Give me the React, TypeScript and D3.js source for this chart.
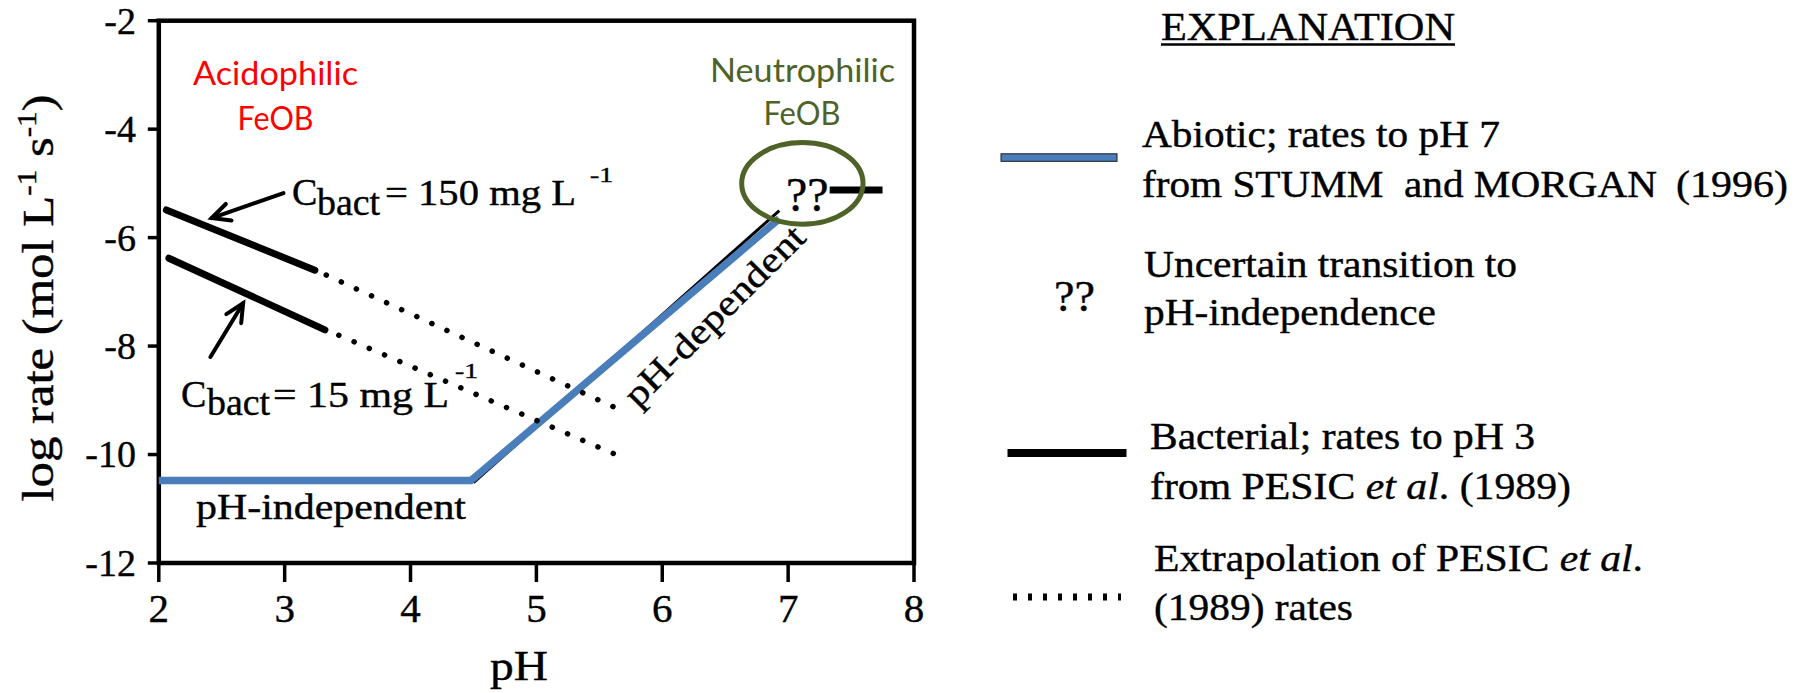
import React from "react";
import * as d3 from "d3";

// ---- data ----
const xTicks = [2, 3, 4, 5, 6, 7, 8];
const yTicks = [-2, -4, -6, -8, -10, -12];

// abiotic (blue) rates
const abioticPH = [2, 4.48, 6.93];
const abioticRate = [-10.48, -10.48, -5.65];
// underlying black abiotic line
const abioticBlackPH = [4.5, 6.93];
const abioticBlackRate = [-10.52, -5.5];
// bacterial 150 mg/L
const bact150PH = [2.06, 3.24];
const bact150Rate = [-5.49, -6.6];
const bact150ExtPH = [3.33, 5.64];
const bact150ExtRate = [-6.69, -9.15];
// bacterial 15 mg/L
const bact15PH = [2.08, 3.32];
const bact15Rate = [-6.38, -7.7];
const bact15ExtPH = [3.43, 5.64];
const bact15ExtRate = [-7.8, -10.01];
// neutral pH-independent segment
const neutralPH = [7.33, 7.75];
const neutralRate = [-5.12, -5.12];

// annotation anchors (data units)
const arrow150 = { tail: [2.99, -5.18], tip: [2.42, -5.64] };
const arrow15 = { tail: [2.41, -8.2], tip: [2.67, -7.21] };
const ellipseC = { ph: 7.113, rate: -5.0, rph: 0.482, rrate: 0.752 };

const SERIF = "'Liberation Serif', 'Times New Roman', serif";
const SANS = "Lato, 'Noto Sans', sans-serif";
const BLUE = "#4a7ebb";
const OLIVE = "#4f6228";

const x = d3.scaleLinear().domain([2, 8]).range([158.8, 914]);
const y = d3.scaleLinear().domain([-12, -2]).range([563, 20.7]);

const line = d3
  .line<[number, number]>()
  .x((d) => x(d[0]))
  .y((d) => y(d[1]));

const zip = (a: number[], b: number[]) => a.map((v, i) => [v, b[i]] as [number, number]);

function Arrow({ tail, tip }: { tail: number[]; tip: number[] }) {
  const x1 = x(tail[0]), y1 = y(tail[1]), x2 = x(tip[0]), y2 = y(tip[1]);
  const ang = Math.atan2(y2 - y1, x2 - x1);
  const L = 20, a = 0.45;
  const h1 = [x2 - L * Math.cos(ang - a), y2 - L * Math.sin(ang - a)];
  const h2 = [x2 - L * Math.cos(ang + a), y2 - L * Math.sin(ang + a)];
  return (
    <g stroke="#000" strokeWidth={4} fill="none" strokeLinecap="round">
      <line x1={x1} y1={y1} x2={x2} y2={y2} />
      <polyline points={`${h1[0]},${h1[1]} ${x2},${y2} ${h2[0]},${h2[1]}`} />
    </g>
  );
}

export default function App() {
  const T = (props: any) => (
    <text fontFamily={SERIF} lengthAdjust="spacingAndGlyphs" stroke="#000" strokeWidth={0.4} {...props} />
  );
  return (
    <div style={{ position: "absolute", left: 0, top: 0 }}>
      <svg width={1809} height={693} style={{ display: "block", background: "#fff" }}>
        {/* frame */}
        <rect x={x(2)} y={y(-2)} width={x(8) - x(2)} height={y(-12) - y(-2)} fill="none" stroke="#000" strokeWidth={4.5} />
        {yTicks.map((t) => (
          <g key={"y" + t}>
            <line x1={x(2) - 11} x2={x(2)} y1={y(t)} y2={y(t)} stroke="#000" strokeWidth={3.5} />
            <T x={136} y={y(t)} dy="0.34em" fontSize={38} textAnchor="end">{t}</T>
          </g>
        ))}
        {xTicks.map((t) => (
          <g key={"x" + t}>
            <line x1={x(t)} x2={x(t)} y1={y(-12)} y2={y(-12) + 19} stroke="#000" strokeWidth={3.5} />
            <T x={x(t)} y={622} fontSize={41} textAnchor="middle">{t}</T>
          </g>
        ))}
        {/* axis titles */}
        <T x={519} y={680} fontSize={42} textAnchor="middle" textLength={58}>pH</T>
        <T transform="translate(53,298) rotate(-90)" fontSize={44} textAnchor="middle" textLength={407}>
          log rate (mol L<tspan dy={-17} fontSize={27}>-1</tspan><tspan dy={17}> s</tspan><tspan dy={-17} fontSize={27}>-1</tspan><tspan dy={17}>)</tspan>
        </T>

        {/* lines */}
        <path d={line(zip(abioticBlackPH, abioticBlackRate))!} fill="none" stroke="#000" strokeWidth={3} />
        <path d={line(zip(abioticPH, abioticRate))!} fill="none" stroke={BLUE} strokeWidth={7.5} />
        <path d={line(zip(bact150PH, bact150Rate))!} fill="none" stroke="#000" strokeWidth={7} strokeLinecap="round" />
        <path d={line(zip(bact15PH, bact15Rate))!} fill="none" stroke="#000" strokeWidth={7} strokeLinecap="round" />
        <path d={line(zip(bact150ExtPH, bact150ExtRate))!} fill="none" stroke="#000" strokeWidth={5.5} strokeLinecap="round" strokeDasharray="0.1 16.5" />
        <path d={line(zip(bact15ExtPH, bact15ExtRate))!} fill="none" stroke="#000" strokeWidth={5.5} strokeLinecap="round" strokeDasharray="0.1 16.5" />
        <path d={line(zip(neutralPH, neutralRate))!} fill="none" stroke="#000" strokeWidth={7} />

        {/* ellipse */}
        <ellipse cx={x(ellipseC.ph)} cy={y(ellipseC.rate)} rx={x(2 + ellipseC.rph) - x(2)} ry={y(-12) - y(-12 + ellipseC.rrate)} fill="none" stroke={OLIVE} strokeWidth={5} />
        <T x={786} y={211} fontSize={48}>??</T>

        {/* arrows */}
        <Arrow tail={arrow150.tail} tip={arrow150.tip} />
        <Arrow tail={arrow15.tail} tip={arrow15.tip} />

        {/* Cbact labels */}
        <T x={292} y={205} fontSize={38}>C</T>
        <T x={317} y={215} fontSize={37} textLength={63}>bact</T>
        <T x={385} y={205} fontSize={36} textLength={191} style={{ whiteSpace: "pre" }}>= 150 mg L</T>
        <T x={590} y={182} fontSize={22} textLength={23}>-1</T>

        <T x={181} y={407} fontSize={38}>C</T>
        <T x={207} y={415} fontSize={37} textLength={63}>bact</T>
        <T x={273} y={407} fontSize={36} textLength={176} style={{ whiteSpace: "pre" }}>= 15 mg L</T>
        <T x={455} y={378} fontSize={22} textLength={23}>-1</T>

        <T x={196} y={519} fontSize={36} textLength={270}>pH-independent</T>
        <T transform="translate(638,409) rotate(-45)" fontSize={36} textLength={240}>pH-dependent</T>

        {/* colored labels */}
        <text fontFamily={SANS} fontSize={32} fill="#ff0000" textAnchor="middle" x={275.5} y={85} textLength={165} lengthAdjust="spacingAndGlyphs">Acidophilic</text>
        <text fontFamily={SANS} fontSize={32} fill="#ff0000" textAnchor="middle" x={275.5} y={130} textLength={76} lengthAdjust="spacingAndGlyphs">FeOB</text>
        <text fontFamily={SANS} fontSize={32} fill={OLIVE} textAnchor="middle" x={802.5} y={82} textLength={185} lengthAdjust="spacingAndGlyphs">Neutrophilic</text>
        <text fontFamily={SANS} fontSize={32} fill={OLIVE} textAnchor="middle" x={802} y={125} textLength={77} lengthAdjust="spacingAndGlyphs">FeOB</text>

        {/* legend */}
        <T x={1161} y={40} fontSize={40} textLength={294}>EXPLANATION</T>
        <line x1={1161} x2={1455} y1={44.5} y2={44.5} stroke="#000" strokeWidth={2.5} />

        <rect x={1001} y={153.8} width={116} height={7.5} fill={BLUE} stroke="#1a1a1a" strokeWidth={1} />
        <T x={1142} y={147} fontSize={38} textLength={358}>Abiotic; rates to pH 7</T>
        <T x={1142} y={197} fontSize={38} textLength={515} style={{ whiteSpace: "pre" }}>from STUMM  and MORGAN</T>
        <T x={1676} y={197} fontSize={38} textLength={112}>(1996)</T>

        <T x={1054} y={311} fontSize={44} textLength={41}>??</T>
        <T x={1144} y={277} fontSize={38} textLength={373}>Uncertain transition to</T>
        <T x={1144} y={325} fontSize={38} textLength={292}>pH-independence</T>

        <line x1={1007.5} x2={1126.5} y1={453} y2={453} stroke="#000" strokeWidth={8} />
        <T x={1150} y={449} fontSize={38} textLength={385}>Bacterial; rates to pH 3</T>
        <T x={1150} y={499} fontSize={38} textLength={421} style={{ whiteSpace: "pre" }}>
          from PESIC <tspan fontStyle="italic">et al</tspan>. (1989)
        </T>

        <line x1={1013} x2={1121} y1={597} y2={597} stroke="#000" strokeWidth={7} strokeDasharray="4 11" />
        <T x={1154} y={571} fontSize={38} textLength={489} style={{ whiteSpace: "pre" }}>
          Extrapolation of PESIC <tspan fontStyle="italic">et al</tspan>.
        </T>
        <T x={1154} y={620} fontSize={38} textLength={199}>(1989) rates</T>
      </svg>
    </div>
  );
}
